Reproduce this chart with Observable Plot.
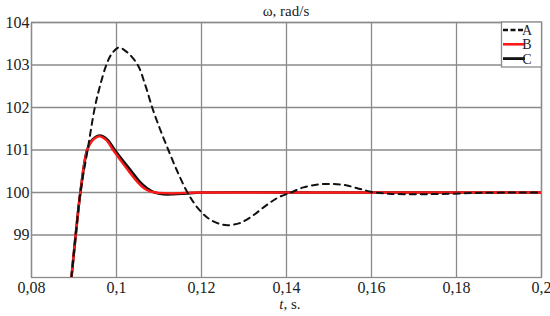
<!DOCTYPE html>
<html>
<head>
<meta charset="utf-8">
<script src="https://cdn.jsdelivr.net/npm/d3@7"></script>
<script src="https://cdn.jsdelivr.net/npm/@observablehq/plot@0.6"></script>
<style>
  html, body { margin: 0; padding: 0; background: #fff; }
  #chart { width: 550px; height: 316px; }
</style>
</head>
<body>
<div id="chart"></div>
<script>
// ---- data ----
const title = "ω, rad/s";
const seriesNames = ["A", "B", "C"];
const xTicks = [0.08, 0.10, 0.12, 0.14, 0.16, 0.18, 0.20];
const yTicks = [99, 100, 101, 102, 103, 104];

const tA = [0.0894, 0.0904, 0.0915, 0.0932, 0.0949, 0.0961, 0.0976, 0.0988, 0.1005, 0.1025, 0.1050, 0.1067, 0.1084, 0.1102, 0.1122, 0.1143, 0.1167, 0.1190, 0.1215, 0.1240, 0.1261, 0.1290, 0.1320, 0.1350, 0.1380, 0.1410, 0.1440, 0.1475, 0.1508, 0.1540, 0.1570, 0.1602, 0.1640, 0.1700, 0.1762, 0.1850, 0.1950, 0.2000];
const wA = [98.0, 99.0, 100.0, 101.0, 102.0, 102.5, 103.0, 103.25, 103.41, 103.3, 103.0, 102.55, 102.0, 101.5, 101.0, 100.5, 100.0, 99.65, 99.4, 99.27, 99.23, 99.28, 99.45, 99.68, 99.88, 100.0, 100.12, 100.19, 100.2, 100.17, 100.09, 100.01, 99.97, 99.96, 99.965, 99.99, 100.0, 100.0];

const tB = [0.0894, 0.0904, 0.0915, 0.0931, 0.0943, 0.0960, 0.0976, 0.0992, 0.1010, 0.1029, 0.1049, 0.1065, 0.1080, 0.1100, 0.1130, 0.1160, 0.1200, 0.1500, 0.2000];
const wB = [98.0, 99.0, 100.0, 101.0, 101.22, 101.32, 101.23, 101.0, 100.75, 100.5, 100.25, 100.1, 100.02, 99.99, 99.98, 99.99, 100.0, 100.0, 100.0];

const tC = [0.0894, 0.0904, 0.0915, 0.0931, 0.0943, 0.0961, 0.0978, 0.0996, 0.1015, 0.1035, 0.1055, 0.1072, 0.1090, 0.1110, 0.1135, 0.1165, 0.1200, 0.1500, 0.2000];
const wC = [98.0, 99.0, 100.0, 101.0, 101.24, 101.34, 101.25, 101.0, 100.75, 100.5, 100.25, 100.1, 100.0, 99.96, 99.96, 99.98, 100.0, 100.0, 100.0];

// ---- build table ----
const rows = [];
tA.forEach((t, i) => rows.push({t, w: wA[i], s: "A"}));
tB.forEach((t, i) => rows.push({t, w: wB[i], s: "B"}));
tC.forEach((t, i) => rows.push({t, w: wC[i], s: "C"}));
const sel = s => rows.filter(d => d.s === s);

const fmtX = d => String(+d.toFixed(2)).replace(".", ",");
const fmtY = d => String(d);
const font = "Liberation Serif";

const plot = Plot.plot({
  width: 550,
  height: 316,
  marginLeft: 31,
  marginRight: 9,
  marginTop: 22,
  marginBottom: 39,
  style: {fontFamily: font, fontSize: "16px", color: "#222", background: "#fff"},
  x: {domain: [0.08, 0.2], label: null},
  y: {domain: [98, 104], label: null},
  marks: [
    Plot.gridX(xTicks, {stroke: "#8a8a8a", strokeOpacity: 1, strokeWidth: 1.3}),
    Plot.gridY(yTicks, {stroke: "#8a8a8a", strokeOpacity: 1, strokeWidth: 1.3}),
    Plot.frame({stroke: "#8a8a8a", strokeWidth: 1.3}),
    Plot.line(sel("C"), {x: "t", y: "w", stroke: "#111", strokeWidth: 2.6, curve: "catmull-rom", clip: true}),
    Plot.line(sel("B"), {x: "t", y: "w", stroke: "#ff1a1a", strokeWidth: 2.4, curve: "catmull-rom", clip: true}),
    Plot.line(sel("A"), {x: "t", y: "w", stroke: "#111", strokeWidth: 2, strokeDasharray: "6,5", curve: "catmull-rom", clip: true}),
    Plot.axisX(xTicks, {tickFormat: fmtX, tickSize: 0, tickPadding: 4, label: null, fontSize: 16}),
    Plot.axisY(yTicks, {tickFormat: fmtY, tickSize: 0, tickPadding: 2, label: null, fontSize: 16})
  ]
});

document.getElementById("chart").appendChild(plot);

const svg = d3.select(plot);
svg.attr("font-family", font);
svg.selectAll("g").attr("font-family", null);
svg.selectAll("text").style("font-family", font);
// title
svg.append("text")
  .attr("x", 286).attr("y", 16)
  .attr("text-anchor", "middle")
  .style("font-family", font).attr("font-size", 15).attr("fill", "#222")
  .text(title);
// x label with italic t
const xl = svg.append("text")
  .attr("x", 290).attr("y", 309)
  .attr("text-anchor", "middle")
  .style("font-family", font).attr("font-size", 15).attr("fill", "#222");
xl.append("tspan").attr("font-style", "italic").text("t");
xl.append("tspan").text(", s.");

// legend
const lg = svg.append("g");
lg.append("rect").attr("x", 501.5).attr("y", 22).attr("width", 40).attr("height", 45)
  .attr("fill", "#fff").attr("stroke", "#8a8a8a").attr("stroke-width", 1.3);
const legendStyles = [
  {stroke: "#111", width: 2.4, dash: "5,2.5"},
  {stroke: "#ff1a1a", width: 2.6, dash: null},
  {stroke: "#111", width: 2.8, dash: null}
];
seriesNames.forEach((name, i) => {
  const y = 30 + i * 14.3;
  const st = legendStyles[i];
  const ln = lg.append("line").attr("x1", 503).attr("x2", 525).attr("y1", y).attr("y2", y)
    .attr("stroke", st.stroke).attr("stroke-width", st.width);
  if (st.dash) ln.attr("stroke-dasharray", st.dash);
  lg.append("text").attr("x", 527).attr("y", y + 5)
    .style("font-family", font).attr("font-size", 14).attr("fill", "#223")
    .text(name);
});
</script>
</body>
</html>
